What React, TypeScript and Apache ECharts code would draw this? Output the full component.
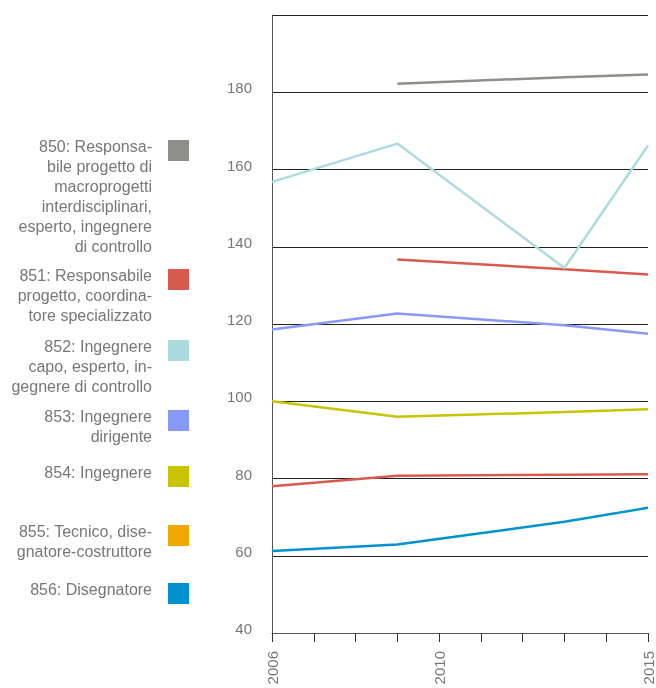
import React, { useEffect, useRef } from "react";
import * as echarts from "echarts";

const years = [2006, 2009, 2013, 2015];
const seriesNames = [
  "850: Responsabile progetto di macroprogetti interdisciplinari, esperto, ingegnere di controllo",
  "851: Responsabile progetto, coordinatore specializzato",
  "852: Ingegnere capo, esperto, ingegnere di controllo",
  "853: Ingegnere dirigente",
  "854: Ingegnere",
  "855: Tecnico, disegnatore-costruttore",
  "856: Disegnatore",
];
const legendLines = [
  ["850: Responsa-", "bile progetto di", "macroprogetti", "interdisciplinari,", "esperto, ingegnere", "di controllo"],
  ["851: Responsabile", "progetto, coordina-", "tore specializzato"],
  ["852: Ingegnere", "capo, esperto, in-", "gegnere di controllo"],
  ["853: Ingegnere", "dirigente"],
  ["854: Ingegnere"],
  ["855: Tecnico, dise-", "gnatore-costruttore"],
  ["856: Disegnatore"],
];
const v850 = [null, 182.2, 183.9, 184.6];
const v851 = [null, 136.7, 134.2, 132.8];
const v852 = [156.8, 166.7, 134.5, 166.2];
const v853 = [118.6, 122.7, 119.7, 117.5];
const v854 = [100.0, 96.0, 97.2, 97.9];
const v855 = [78.0, 80.7, 81.0, 81.1];
const v856 = [61.2, 62.9, 68.8, 72.4];
const values = [v850, v851, v852, v853, v854, v855, v856];
const yTicks = [40, 60, 80, 100, 120, 140, 160, 180, 200];
const xLabelYears = [2006, 2010, 2015];

const legendColors = ["#8f8f8a", "#d95b50", "#abdbdf", "#8799fb", "#c8c400", "#f0a800", "#0091cf"];
const lineColors = ["#8f8f8a", "#d95b50", "#abdbdf", "#8799fb", "#c8c400", "#d95b50", "#0091cf"];
const legendTops = [140, 269, 340, 410, 466, 525, 583];

const FONT = "'Liberation Sans', Arial, Helvetica, sans-serif";

export default function App() {
  const ref = useRef<HTMLDivElement>(null);
  useEffect(() => {
    if (!ref.current) return;
    const chart = echarts.init(ref.current, undefined, { renderer: "svg" });
    const graphic: any[] = [];
    legendLines.forEach((lines, i) => {
      graphic.push({
        type: "rect",
        shape: { x: 168, y: legendTops[i], width: 21, height: 21 },
        style: { fill: legendColors[i] },
      });
      graphic.push({
        type: "text",
        x: 152,
        y: legendTops[i] - 4,
        style: {
          text: lines.join("\n"),
          align: "right",
          verticalAlign: "top",
          lineHeight: 20,
          fill: "#777777",
          font: `16px ${FONT}`,
        },
      });
    });
    chart.setOption({
      animation: false,
      grid: { left: 272, right: 8, top: 15, bottom: 55, containLabel: false },
      xAxis: {
        type: "value",
        min: 2006,
        max: 2015,
        interval: 1,
        axisLine: { show: true, lineStyle: { color: "#555", width: 1 } },
        axisTick: { show: true, length: 9, lineStyle: { color: "#333" } },
        splitLine: { show: false },
        axisLabel: {
          rotate: 90,
          margin: 18,
          color: "#777",
          fontSize: 15,
          fontFamily: FONT,
          formatter: (v: number) => (xLabelYears.includes(v) ? String(v) : ""),
        },
      },
      yAxis: {
        type: "value",
        min: yTicks[0],
        max: yTicks[yTicks.length - 1],
        interval: 20,
        axisLine: { show: true, lineStyle: { color: "#555", width: 1 } },
        axisTick: { show: false },
        splitLine: { show: true, lineStyle: { color: "#222", width: 1 } },
        axisLabel: {
          showMaxLabel: false,
          margin: 20,
          color: "#777",
          fontSize: 15,
          fontFamily: FONT,
          verticalAlign: "bottom",
          lineHeight: 9,
        },
      },
      graphic,
      series: seriesNames.map((name, i) => ({
        name,
        type: "line",
        data: years.map((y, j) => [y, values[i][j]]),
        connectNulls: true,
        showSymbol: false,
        symbol: "none",
        lineStyle: { color: lineColors[i], width: 2.5 },
        itemStyle: { color: lineColors[i] },
      })),
    });
    return () => chart.dispose();
  }, []);
  return (
    <div style={{ position: "fixed", left: 0, top: 0 }}>
      <div ref={ref} style={{ width: 656, height: 688 }} />
    </div>
  );
}
